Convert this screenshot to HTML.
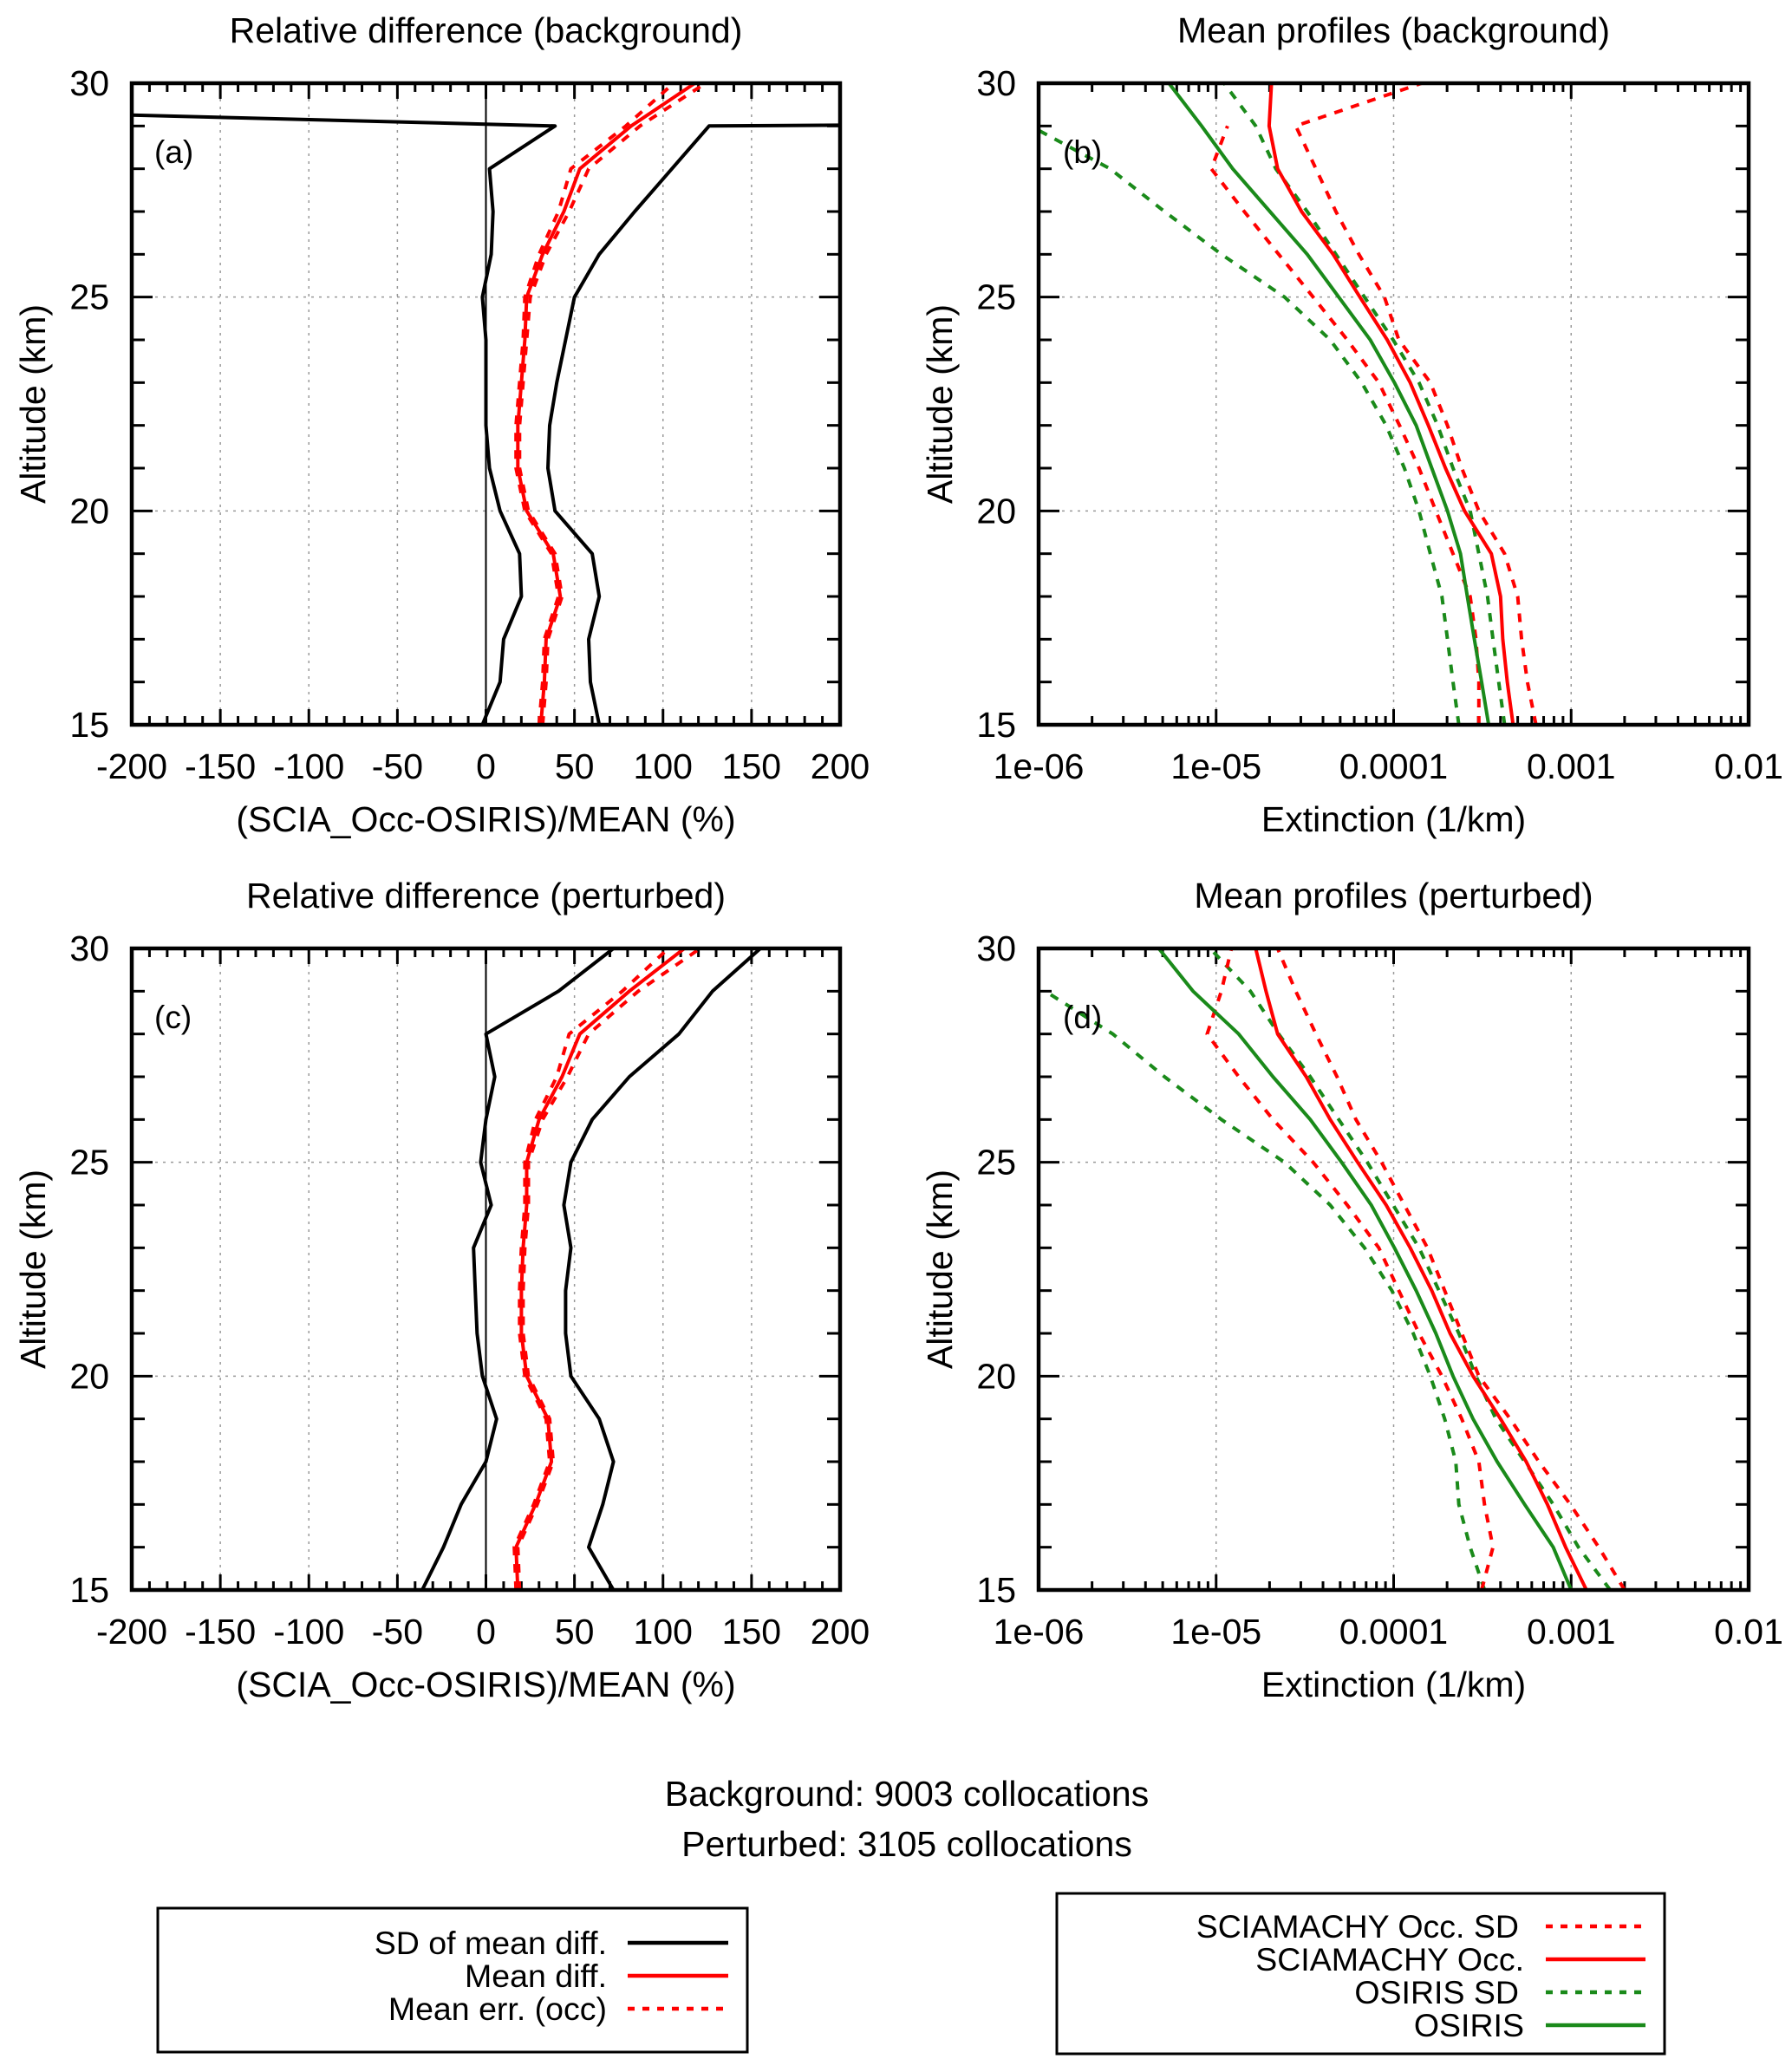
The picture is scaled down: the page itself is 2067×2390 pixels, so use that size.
<!DOCTYPE html>
<html><head><meta charset="utf-8"><style>
html,body{margin:0;padding:0;background:#fff;}
svg{display:block;font-family:"Liberation Sans",Arial,sans-serif;}
</style></head><body>
<svg id="fig" width="2067" height="2390" viewBox="0 0 2067 2390" xmlns="http://www.w3.org/2000/svg">
<rect x="0" y="0" width="2067" height="2390" fill="#fff"/>
<text x="1046" y="2083" font-size="41" text-anchor="middle">Background: 9003 collocations</text>
<text x="1046" y="2141" font-size="41" text-anchor="middle">Perturbed: 3105 collocations</text>
<g>
<rect x="182" y="2201" width="680" height="166" fill="none" stroke="#000" stroke-width="3"/>
<text x="700" y="2254" font-size="37.5" text-anchor="end">SD of mean diff.</text>
<line x1="724" y1="2241" x2="840" y2="2241" stroke="#000" stroke-width="4.5"/>
<text x="700" y="2292" font-size="37.5" text-anchor="end">Mean diff.</text>
<line x1="724" y1="2279" x2="840" y2="2279" stroke="#f00" stroke-width="4.5"/>
<text x="700" y="2330" font-size="37.5" text-anchor="end">Mean err. (occ)</text>
<line x1="724" y1="2317" x2="840" y2="2317" stroke="#f00" stroke-width="4.5" stroke-dasharray="8,9"/>
</g>
<g>
<rect x="1219" y="2184" width="701" height="185" fill="none" stroke="#000" stroke-width="3"/>
<text x="1752" y="2235" font-size="37.5" text-anchor="end">SCIAMACHY Occ. SD</text>
<line x1="1783" y1="2222" x2="1898" y2="2222" stroke="#f00" stroke-width="4.5" stroke-dasharray="8,9"/>
<text x="1758" y="2273" font-size="37.5" text-anchor="end">SCIAMACHY Occ.</text>
<line x1="1783" y1="2260" x2="1898" y2="2260" stroke="#f00" stroke-width="4.5"/>
<text x="1752" y="2311" font-size="37.5" text-anchor="end">OSIRIS SD</text>
<line x1="1783" y1="2298" x2="1898" y2="2298" stroke="#1a8a1a" stroke-width="4.5" stroke-dasharray="8,9"/>
<text x="1758" y="2349" font-size="37.5" text-anchor="end">OSIRIS</text>
<line x1="1783" y1="2336" x2="1898" y2="2336" stroke="#1a8a1a" stroke-width="4.5"/>
</g>
</svg>
<script>
// ---- data ----
const altitudes = [15,16,17,18,19,20,21,22,23,24,25,26,27,28,29,30];
const xTicksLinear = [-200,-150,-100,-50,0,50,100,150,200];
const xTickLabelsLog = ["1e-06","1e-05","0.0001","0.001","0.01"];
const xTicksLog = [1e-6,1e-5,1e-4,1e-3,1e-2];
const yTicks = [15,20,25,30];

// Panel (a) relative difference, background
const aSdLeft  = [-2,8,10,20,19,8,2,0,0,0,-2,3,4,2,39,-900];
const aSdRight = [64,59,58,64,60,39,35,36,40,45,50,64,84,105,126,4000];
const aMean    = [31,33,34,42,38,23,18,18,20,22,23,32,44,53,82,118];
const aErrLow  = [30,32,33,41,37,22,17,17,19,21,22,30,41,48,79,106];
const aErrHigh = [32,34,35,43,39,24,19,19,21,23,25,34,47,58,87,124];

// Panel (c) relative difference, perturbed
const cSdLeft  = [-36,-24,-14,0,6,-2,-5,-6,-7,3,-3,0,5,0,41,72];
const cSdRight = [72,58,66,72,64,48,45,45,48,44,48,60,81,109,128,155];
const cMean    = [18,17,28,37,35,23,20,20,21,23,23,30,43,53,81,112];
const cErrLow  = [17,16,27,36,34,22,19,19,20,22,22,28,40,47,77,103];
const cErrHigh = [19,18,29,38,36,24,21,21,22,24,24,32,46,58,86,121];

// Panel (b) mean profiles, background (null = no value)
const bScia      = [4.71e-4,4.37e-4,4.12e-4,4.0e-4,3.55e-4,2.51e-4,1.96e-4,1.57e-4,1.24e-4,9.2e-5,6.46e-5,4.56e-5,3.03e-5,2.22e-5,1.99e-5,2.05e-5];
const bSciaSdHi  = [6.34e-4,5.67e-4,5.26e-4,5.0e-4,4.22e-4,3.02e-4,2.42e-4,2.01e-4,1.61e-4,1.07e-4,8.88e-5,6.37e-5,4.73e-5,3.65e-5,2.81e-5,1.44e-4];
const bSciaSdLo  = [3.02e-4,3.02e-4,2.91e-4,2.70e-4,2.16e-4,1.73e-4,1.39e-4,1.08e-4,8.25e-5,5.48e-5,3.52e-5,2.25e-5,1.44e-5,9.4e-6,1.16e-5,null];
const bOsiris    = [3.43e-4,3.13e-4,2.85e-4,2.60e-4,2.38e-4,2.01e-4,1.64e-4,1.34e-4,1.01e-4,7.38e-5,4.91e-5,3.26e-5,2.01e-5,1.24e-5,8.28e-6,5.42e-6];
const bOsirisSdHi= [4.22e-4,3.91e-4,3.63e-4,3.38e-4,3.02e-4,2.70e-4,2.16e-4,1.77e-4,1.39e-4,9.93e-5,6.85e-5,4.73e-5,3.26e-5,2.17e-5,1.67e-5,1.11e-5];
const bOsirisSdLo= [2.33e-4,2.16e-4,2.01e-4,1.87e-4,1.61e-4,1.39e-4,1.15e-4,9.08e-5,6.6e-5,4.39e-5,2.43e-5,1.07e-5,5.12e-6,2.53e-6,9.0e-7,null];

// Panel (d) mean profiles, perturbed
const dScia      = [1.22e-3,9.31e-4,7.35e-4,5.58e-4,4.0e-4,2.80e-4,2.08e-4,1.64e-4,1.24e-4,9.08e-5,6.27e-5,4.39e-5,3.22e-5,2.22e-5,1.91e-5,1.67e-5];
const dSciaSdHi  = [2.0e-3,1.43e-3,9.89e-4,6.58e-4,4.54e-4,3.02e-4,2.42e-4,1.94e-4,1.55e-4,1.15e-4,8.55e-5,6.13e-5,4.80e-5,3.65e-5,2.81e-5,2.22e-5];
const dSciaSdLo  = [3.13e-4,3.63e-4,3.25e-4,3.02e-4,2.42e-4,1.87e-4,1.39e-4,1.07e-4,8.25e-5,5.48e-5,3.52e-5,2.09e-5,1.34e-5,8.9e-6,1.07e-5,1.22e-5];
const dOsiris    = [1.0e-3,7.93e-4,5.47e-4,3.83e-4,2.80e-4,2.16e-4,1.73e-4,1.34e-4,1.01e-4,7.48e-5,5.09e-5,3.39e-5,2.09e-5,1.34e-5,7.41e-6,4.75e-6];
const dOsirisSdHi= [1.66e-3,1.10e-3,7.93e-4,5.47e-4,3.77e-4,2.91e-4,2.33e-4,1.80e-4,1.39e-4,9.93e-5,7.11e-5,4.91e-5,3.39e-5,2.25e-5,1.56e-5,9.25e-6];
const dOsirisSdLo= [3.25e-4,2.70e-4,2.33e-4,2.24e-4,1.94e-4,1.61e-4,1.29e-4,9.78e-5,6.85e-5,4.39e-5,2.43e-5,1.07e-5,5.12e-6,2.62e-6,1.09e-6,null];

const NS = "http://www.w3.org/2000/svg";
const svg = document.getElementById('fig');
function mk(tag, attrs, parent){
  const e = document.createElementNS(NS, tag);
  for (const k in attrs) e.setAttribute(k, attrs[k]);
  (parent||svg).appendChild(e);
  return e;
}
let clipId = 0;
const FS = 41;

function panel(cfg){
  const L=cfg.x0, R=cfg.x1, T=cfg.y0, B=cfg.y1;
  const g = mk('g',{});
  
  
  const xs = cfg.log
    ? v => L + (Math.log10(v) + 6) / 4 * (R - L)
    : v => L + (v + 200) / 400 * (R - L);
  const ys = a => B - (a - 15) / 15 * (B - T);
  const gridX = cfg.log ? xTicksLog.slice(1,-1) : xTicksLinear.slice(1,-1);
  gridX.forEach(v => {
    const l = mk('line',{x1:xs(v),x2:xs(v),y1:T,y2:B,stroke:'#999','stroke-width':1.5,'stroke-dasharray':'3,6'},g);
    
    
  });
  [20,25].forEach(a => {
    const l = mk('line',{x1:L,x2:R,y1:ys(a),y2:ys(a),stroke:'#999','stroke-width':1.5,'stroke-dasharray':'3,6'},g);
    
    
  });
  if (!cfg.log) {
    const z = mk('line',{x1:xs(0),x2:xs(0),y1:T,y2:B,stroke:'#000','stroke-width':2},g);
    
    
  }
  const tk = mk('g',{stroke:'#000','stroke-width':3},g);
  
  
  const xMinor = [], xMajor = [];
  if (cfg.log) {
    for (let d=-6; d<-2; d++) for (let m=2; m<=9; m++) xMinor.push(m*Math.pow(10,d));
    xTicksLog.forEach(v=>xMajor.push(v));
  } else {
    for (let v=-200; v<=200; v+=10) (v%50===0 ? xMajor : xMinor).push(v);
  }
  xMinor.forEach(v => { mk('line',{x1:xs(v),x2:xs(v),y1:B,y2:B-10},tk); mk('line',{x1:xs(v),x2:xs(v),y1:T,y2:T+10},tk); });
  xMajor.forEach(v => { mk('line',{x1:xs(v),x2:xs(v),y1:B,y2:B-18},tk); mk('line',{x1:xs(v),x2:xs(v),y1:T,y2:T+18},tk); });
  altitudes.forEach(a => {
    const len = (a%5===0) ? 24 : 15;
    mk('line',{x1:L,x2:L+len,y1:ys(a),y2:ys(a)},tk);
    mk('line',{x1:R,x2:R-len,y1:ys(a),y2:ys(a)},tk);
  });
  const cp = 'clip'+(clipId++);
  const defs = mk('defs',{},g);
  const c = mk('clipPath',{id:cp},defs);
  mk('rect',{x:L,y:T,width:R-L,height:B-T},c);
  const sg = mk('g',{'clip-path':'url(#'+cp+')'},g);
  cfg.series.forEach(s => {
    const pts = [];
    s.vals.forEach((v,i) => { if (v!==null) pts.push(xs(v).toFixed(1)+','+ys(altitudes[i]).toFixed(1)); });
    const p = mk('polyline',{points:pts.join(' '),fill:'none',stroke:s.color,'stroke-width':4,'stroke-linejoin':'round'},sg);
    if (s.dash) p.setAttribute('stroke-dasharray','10,10');
    
    
  });
  const fr = mk('rect',{x:L,y:T,width:R-L,height:B-T,fill:'none',stroke:'#000','stroke-width':4.5},g);
  
  
  if (cfg.log) {
    xTicksLog.forEach((v,i) => {
      const t = mk('text',{x:xs(v),y:B+62,'font-size':FS,'text-anchor':'middle'},g);
      t.textContent = xTickLabelsLog[i];
      
      
    });
  } else {
    xTicksLinear.forEach(v => {
      const t = mk('text',{x:xs(v),y:B+62,'font-size':FS,'text-anchor':'middle'},g);
      t.textContent = String(v);
      
      
    });
  }
  yTicks.forEach(a => {
    const t = mk('text',{x:L-26,y:ys(a)+14,'font-size':FS,'text-anchor':'end'},g);
    t.textContent = String(a);
    
    
  });
  const tt = mk('text',{x:(L+R)/2,y:T-47,'font-size':FS,'text-anchor':'middle'},g);
  tt.textContent = cfg.title;
  
  
  const xt = mk('text',{x:(L+R)/2,y:B+123,'font-size':FS,'text-anchor':'middle'},g);
  xt.textContent = cfg.xlabel;
  
  
  const yx = L - 100;
  const yt = mk('text',{x:yx,y:(T+B)/2,'font-size':FS,'text-anchor':'middle',transform:'rotate(-90 '+yx+' '+((T+B)/2)+')'},g);
  yt.textContent = 'Altitude (km)';
  
  
  const pl = mk('text',{x:L+(cfg.log?28:26),y:T+92,'font-size':37},g);
  pl.textContent = cfg.tag;
  
  
}

const RED='#f00', GREEN='#1a8a1a';
panel({name:'panel-a-relative-difference-background',x0:152,x1:969,y0:96,y1:836,log:false,tag:'(a)',
  title:'Relative difference (background)',xlabel:'(SCIA_Occ-OSIRIS)/MEAN (%)',
  series:[{name:'sd-left',vals:aSdLeft,color:'#000'},{name:'sd-right',vals:aSdRight,color:'#000'},
          {name:'mean-err-low',vals:aErrLow,color:RED,dash:true},{name:'mean-err-high',vals:aErrHigh,color:RED,dash:true},
          {name:'mean-diff',vals:aMean,color:RED}]});
panel({name:'panel-b-mean-profiles-background',x0:1198,x1:2017,y0:96,y1:836,log:true,tag:'(b)',
  title:'Mean profiles (background)',xlabel:'Extinction (1/km)',
  series:[{name:'osiris-sd-low',vals:bOsirisSdLo,color:GREEN,dash:true},{name:'osiris-sd-high',vals:bOsirisSdHi,color:GREEN,dash:true},
          {name:'sciamachy-sd-low',vals:bSciaSdLo,color:RED,dash:true},{name:'sciamachy-sd-high',vals:bSciaSdHi,color:RED,dash:true},
          {name:'osiris-mean',vals:bOsiris,color:GREEN},{name:'sciamachy-mean',vals:bScia,color:RED}]});
panel({name:'panel-c-relative-difference-perturbed',x0:152,x1:969,y0:1094,y1:1834,log:false,tag:'(c)',
  title:'Relative difference (perturbed)',xlabel:'(SCIA_Occ-OSIRIS)/MEAN (%)',
  series:[{name:'sd-left',vals:cSdLeft,color:'#000'},{name:'sd-right',vals:cSdRight,color:'#000'},
          {name:'mean-err-low',vals:cErrLow,color:RED,dash:true},{name:'mean-err-high',vals:cErrHigh,color:RED,dash:true},
          {name:'mean-diff',vals:cMean,color:RED}]});
panel({name:'panel-d-mean-profiles-perturbed',x0:1198,x1:2017,y0:1094,y1:1834,log:true,tag:'(d)',
  title:'Mean profiles (perturbed)',xlabel:'Extinction (1/km)',
  series:[{name:'osiris-sd-low',vals:dOsirisSdLo,color:GREEN,dash:true},{name:'osiris-sd-high',vals:dOsirisSdHi,color:GREEN,dash:true},
          {name:'sciamachy-sd-low',vals:dSciaSdLo,color:RED,dash:true},{name:'sciamachy-sd-high',vals:dSciaSdHi,color:RED,dash:true},
          {name:'osiris-mean',vals:dOsiris,color:GREEN},{name:'sciamachy-mean',vals:dScia,color:RED}]});
</script>
</body></html>
